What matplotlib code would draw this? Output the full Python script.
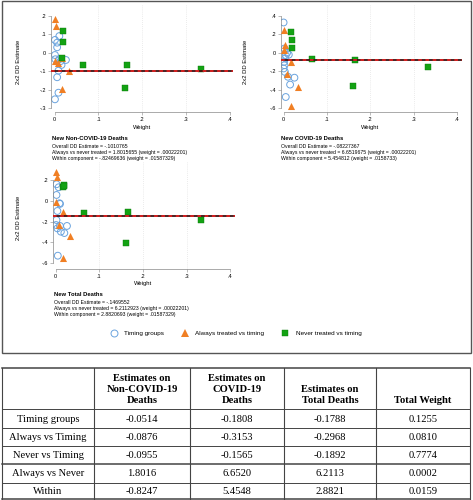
import numpy as np
import matplotlib
matplotlib.use("Agg")
import matplotlib.pyplot as plt
from matplotlib.patches import Rectangle
from matplotlib.lines import Line2D

W, H = 473, 500

# ---- data ----
always_w = [0.002, 0.003, 0.002, 0.018, 0.007, 0.034, 0.016]
never_w = [0.016, 0.019, 0.020, 0.066, 0.161, 0.165, 0.334]

p1_timing_w = [0.001, 0.006, 0.011, 0.006, 0.001, 0.002, 0.014, 0.026, 0.016, 0.009, 0.006, 0.009, 0.001, 0.011]
p1_timing_v = [0.07, 0.055, 0.091, 0.03, -0.012, -0.035, -0.045, -0.039, -0.066, -0.097, -0.133, -0.217, -0.253, -0.035]
p1_always_v = [0.184, 0.144, -0.045, -0.03, -0.057, -0.098, -0.195]
p1_never_v = [-0.027, 0.117, 0.057, -0.065, -0.193, -0.066, -0.09]

p2_timing_w = [0.000, 0.002, 0.005, 0.001, 0.002, 0.000, 0.003, 0.010, 0.025, 0.015, 0.005, 0.008, 0.004, 0.012]
p2_timing_v = [0.33, 0.047, -0.025, -0.098, -0.135, -0.17, -0.207, -0.26, -0.27, -0.345, -0.48, 0.0, -0.06, -0.02]
p2_always_v = [0.247, 0.09, 0.036, -0.098, -0.225, -0.371, -0.578]
p2_never_v = [0.222, 0.055, 0.138, -0.062, -0.364, -0.08, -0.158]

p3_timing_w = [0.002, 0.002, 0.009, 0.010, 0.004, 0.002, 0.001, 0.004, 0.010, 0.012, 0.026, 0.020, 0.005, 0.007]
p3_timing_v = [0.159, 0.056, -0.024, -0.03, -0.098, -0.185, -0.233, -0.265, -0.242, -0.297, -0.242, -0.31, -0.528, 0.13]
p3_always_v = [0.28, 0.233, -0.01, -0.104, -0.23, -0.34, -0.55]
p3_never_v = [0.135, 0.148, 0.14, -0.113, -0.403, -0.104, -0.188]

overall = [-0.1010765, -0.08227367, -0.1469552]
titles = ["New Non-COVID-19 Deaths", "New COVID-19 Deaths", "New Total Deaths"]
notes = [
    ["Overall DD Estimate = -.1010765",
     "Always vs never treated = 1.8015655 (weight = .00022201)",
     "Within component = -.82469636 (weight = .01587329)"],
    ["Overall DD Estimate = -.08227367",
     "Always vs never treated = 6.6519675 (weight = .00022201)",
     "Within component = 5.454812 (weight = .0158733)"],
    ["Overall DD Estimate = -.1469552",
     "Always vs never treated = 6.2112923 (weight = .00022201)",
     "Within component = 2.8820693 (weight = .01587329)"],
]
y_ticks = [[0.2, 0.1, 0.0, -0.1, -0.2, -0.3],
           [0.4, 0.2, 0.0, -0.2, -0.4, -0.6],
           [0.2, 0.0, -0.2, -0.4, -0.6]]
x_ticks = [0, 0.1, 0.2, 0.3, 0.4]
legend_labels = ["Timing groups", "Always treated vs timing", "Never treated vs timing"]

table_cols = ["", "Estimates on\nNon-COVID-19\nDeaths", "Estimates on\nCOVID-19\nDeaths",
              "Estimates on\nTotal Deaths", "Total Weight"]
table_rows = ["Timing groups", "Always vs Timing", "Never vs Timing", "Always vs Never", "Within"]
est_noncovid = ["-0.0514", "-0.0876", "-0.0955", "1.8016", "-0.8247"]
est_covid = ["-0.1808", "-0.3153", "-0.1565", "6.6520", "5.4548"]
est_total = ["-0.1788", "-0.2968", "-0.1892", "6.2113", "2.8821"]
total_weight = ["0.1255", "0.0810", "0.7774", "0.0002", "0.0159"]

C_CIRC = "#6aa3de"
C_TRI = "#f07f24"
C_SQ = "#13a213"
SANS = "Liberation Sans"
SERIF = "Liberation Serif"


def stata_fmt(v):
    if abs(v) < 1e-9:
        return "0"
    s = f"{v:g}"
    return s.replace("0.", ".")


def px_axes(fig, l, t, r, b):
    return fig.add_axes([l / W, 1 - b / H, (r - l) / W, (b - t) / H])


def draw_panel(fig, box, xlim, ylim, tw, tv, av, nv, ov, yt):
    ax = px_axes(fig, *box)
    ax.set_xlim(*xlim)
    ax.set_ylim(*ylim)
    for x in [0.1, 0.2, 0.3]:
        ax.axvline(x, color="#e4e4e4", lw=0.6, ls=(0, (1, 1.5)), zorder=0)
    ax.scatter(tw, tv, s=24, facecolors="none", edgecolors=C_CIRC, linewidths=0.7, zorder=2)
    ax.scatter(always_w, av, s=26, marker="^", color=C_TRI, linewidths=0, zorder=3)
    ax.scatter(never_w, nv, s=20, marker="s", color=C_SQ, edgecolors="#0d7a0d", linewidths=0.3, zorder=4)
    ax.plot([xlim[0], xlim[1]], [ov, ov], color="#3a1010", lw=1.3, zorder=5)
    ax.plot([xlim[0], xlim[1]], [ov, ov], color="#e02020", lw=1.3, ls=(0, (2, 2)), zorder=6)
    for s in ["top", "right"]:
        ax.spines[s].set_visible(False)
    for s in ["left", "bottom"]:
        ax.spines[s].set_color("#888888")
        ax.spines[s].set_linewidth(0.5)
    ax.spines["left"].set_bounds(min(yt), max(yt))
    ax.spines["bottom"].set_bounds(0, 0.4)
    ax.set_xticks(x_ticks)
    ax.set_xticklabels([stata_fmt(x) for x in x_ticks])
    ax.set_yticks(yt)
    ax.set_yticklabels([stata_fmt(y) for y in yt])
    ax.tick_params(length=2, width=0.4, color="#888888", labelsize=4, pad=1.5)
    for lab in ax.get_xticklabels() + ax.get_yticklabels():
        lab.set_family(SANS)
    return ax


def ftext(fig, x, y, s, **kw):
    fig.text(x / W, 1 - y / H, s, **kw)


def main():
    fig = plt.figure(figsize=(W / 100, H / 100), dpi=100)

    # outer frame of the graph
    fig.patches.append(Rectangle((1.5 / W, 1 - 353 / H), 469 / W, 352 / H, transform=fig.transFigure,
                                 fill=False, edgecolor="#555555", lw=1.0))

    draw_panel(fig, (51, 5, 233, 112), (-0.008, 0.407), (-0.322, 0.26),
               p1_timing_w, p1_timing_v, p1_always_v, p1_never_v, overall[0], y_ticks[0])
    draw_panel(fig, (281, 5, 462, 112), (-0.006, 0.412), (-0.643, 0.52),
               p2_timing_w, p2_timing_v, p2_always_v, p2_never_v, overall[1], y_ticks[1])
    draw_panel(fig, (53, 162, 235, 269), (-0.006, 0.411), (-0.656, 0.373),
               p3_timing_w, p3_timing_v, p3_always_v, p3_never_v, overall[2], y_ticks[2])

    # axis titles
    for (x, y) in [(19, 62), (245, 62), (18, 218)]:
        ftext(fig, x, y, "2x2 DD Estimate", rotation=90, fontsize=4.2, family=SANS,
              ha="center", va="center")
    for (x, y) in [(142, 128), (370, 128), (143, 284)]:
        ftext(fig, x, y, "Weight", fontsize=4.2, family=SANS, ha="center", va="center")

    # notes under each panel
    for (x, y), t, nl in zip([(52, 139), (281, 139), (54, 295)], titles, notes):
        ftext(fig, x, y, t, fontsize=4.2, family=SANS, weight="bold", va="center")
        for i, line in enumerate(nl):
            ftext(fig, x, y + 8 + i * 5.8, line, fontsize=3.7, family=SANS, va="center")

    # legend
    leg_y = 333
    fig.lines.append(Line2D([114 / W], [1 - leg_y / H], transform=fig.transFigure, marker="o",
                            markersize=5, mfc="none", mec=C_CIRC, mew=0.7, ls="none"))
    fig.lines.append(Line2D([185 / W], [1 - leg_y / H], transform=fig.transFigure, marker="^",
                            markersize=5.5, mfc=C_TRI, mec=C_TRI, mew=0, ls="none"))
    fig.lines.append(Line2D([285 / W], [1 - leg_y / H], transform=fig.transFigure, marker="s",
                            markersize=4.5, mfc=C_SQ, mec="#0d7a0d", mew=0.3, ls="none"))
    for x, lab in zip([124, 195, 296], legend_labels):
        ftext(fig, x, leg_y, lab, fontsize=4.6, family=SANS, va="center")

    # ---- table ----
    tab = fig.add_axes([0, 0, 1, 1])
    tab.set_xlim(0, W)
    tab.set_ylim(H, 0)
    tab.axis("off")
    col_x = [2, 94, 190, 284, 376, 470]
    row_y = [368, 409, 428, 446, 464, 483, 499]
    for x in col_x:
        tab.plot([x, x], [row_y[0], row_y[-1]], color="#444444", lw=0.8)
    for i, y in enumerate(row_y):
        lw = 1.1 if i in (0, 4, 6) else 0.7
        tab.plot([col_x[0], col_x[-1]], [y, y], color="#444444", lw=lw)
    for j, head in enumerate(table_cols):
        cx = (col_x[j] + col_x[j + 1]) / 2
        tab.text(cx, row_y[1] - 4, head, ha="center", va="bottom", fontsize=7.6,
                 family=SERIF, weight="bold", linespacing=1.3)
    cols = [table_rows, est_noncovid, est_covid, est_total, total_weight]
    for j, col in enumerate(cols):
        cx = (col_x[j] + col_x[j + 1]) / 2
        for i, val in enumerate(col):
            cy = (row_y[i + 1] + row_y[i + 2]) / 2
            tab.text(cx, cy + 0.5, val, ha="center", va="center", fontsize=7.6, family=SERIF)

    fig.savefig("out.png", dpi=100)
    plt.close("all")


if __name__ == "__main__":
    main()
